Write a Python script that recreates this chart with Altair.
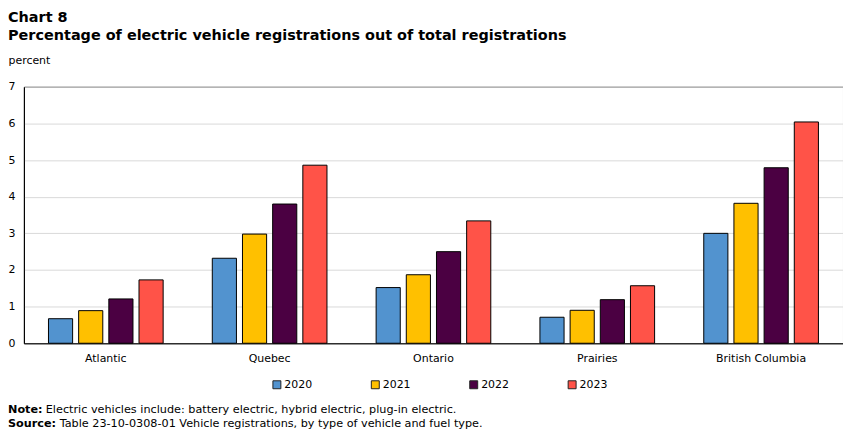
import altair as alt
import pandas as pd

regions = ["Atlantic", "Quebec", "Ontario", "Prairies", "British Columbia"]
years = ["2020", "2021", "2022", "2023"]
v2020 = [0.67, 2.32, 1.52, 0.71, 3.00]
v2021 = [0.89, 2.98, 1.87, 0.90, 3.82]
v2022 = [1.21, 3.80, 2.50, 1.19, 4.79]
v2023 = [1.73, 4.86, 3.34, 1.57, 6.04]
colors = ["#5293CF", "#FFC000", "#4B0042", "#FF5348"]

rows = []
for yr, vals in zip(years, [v2020, v2021, v2022, v2023]):
    for r, v in zip(regions, vals):
        rows.append({"region": r, "year": yr, "value": v})
df = pd.DataFrame(rows)

FONT = "DejaVu Sans"

bars = alt.Chart(df).mark_bar(stroke="black", strokeWidth=1).encode(
    x=alt.X("region:N", sort=regions, title=None,
            scale=alt.Scale(paddingInner=0.3, paddingOuter=0.15),
            axis=alt.Axis(labelAngle=0, ticks=False, labelPadding=9,
                          labelFontSize=11, labelFont=FONT, labelColor="black",
                          domainColor="black")),
    xOffset=alt.XOffset("year:N", sort=years,
                        scale=alt.Scale(paddingInner=0.2, paddingOuter=0)),
    y=alt.Y("value:Q", title="percent",
            scale=alt.Scale(domain=[0, 7]),
            axis=alt.Axis(values=[0, 1, 2, 3, 4, 5, 6, 7], ticks=False,
                          labelAlign="left", labelPadding=16,
                          labelFontSize=11, labelFont=FONT, labelColor="black",
                          gridColor="#d9d9d9", domainColor="black",
                          titleAngle=0, titleX=-16, titleY=-26, titleAlign="left",
                          titleBaseline="middle", titleFontWeight="normal",
                          titleFontSize=11, titleFont=FONT, titleColor="black")),
    color=alt.Color("year:N", sort=years,
                    scale=alt.Scale(domain=years, range=colors),
                    legend=alt.Legend(title=None, orient="none", direction="horizontal",
                                      columns=4, legendX=249, legendY=294,
                                      symbolType="square", symbolSize=64,
                                      symbolStrokeColor="#222", symbolStrokeWidth=1,
                                      labelFontSize=11, labelFont=FONT, labelColor="black",
                                      labelOffset=2, columnPadding=57)),
)

note_df = pd.DataFrame({"t": [0]})

def txt(text, x, y, bold=False):
    return alt.Chart(note_df).mark_text(
        text=text, align="left", baseline="middle", fontSize=11.3, font=FONT,
        fontWeight="bold" if bold else "normal", color="black"
    ).encode(x=alt.value(x), y=alt.value(y))

notes = [
    txt("Note:", -16, 325, True),
    txt("Electric vehicles include: battery electric, hybrid electric, plug-in electric.", 22, 325),
    txt("Source:", -16, 339, True),
    txt("Table 23-10-0308-01  Vehicle registrations, by type of vehicle and fuel type.", 36, 339),
]

chart = alt.layer(bars, *notes).properties(
    width=824, height=258, padding=0,
    title=alt.TitleParams(
        ["Chart 8", "Percentage of electric vehicle registrations out of total registrations"],
        anchor="start", frame="bounds", fontSize=14.5, font=FONT, fontWeight="bold",
        lineHeight=18, offset=12, color="black"),
).configure_view(stroke="black", strokeWidth=1)

chart.save("out.html", embed_options={"renderer": "svg", "actions": False})
